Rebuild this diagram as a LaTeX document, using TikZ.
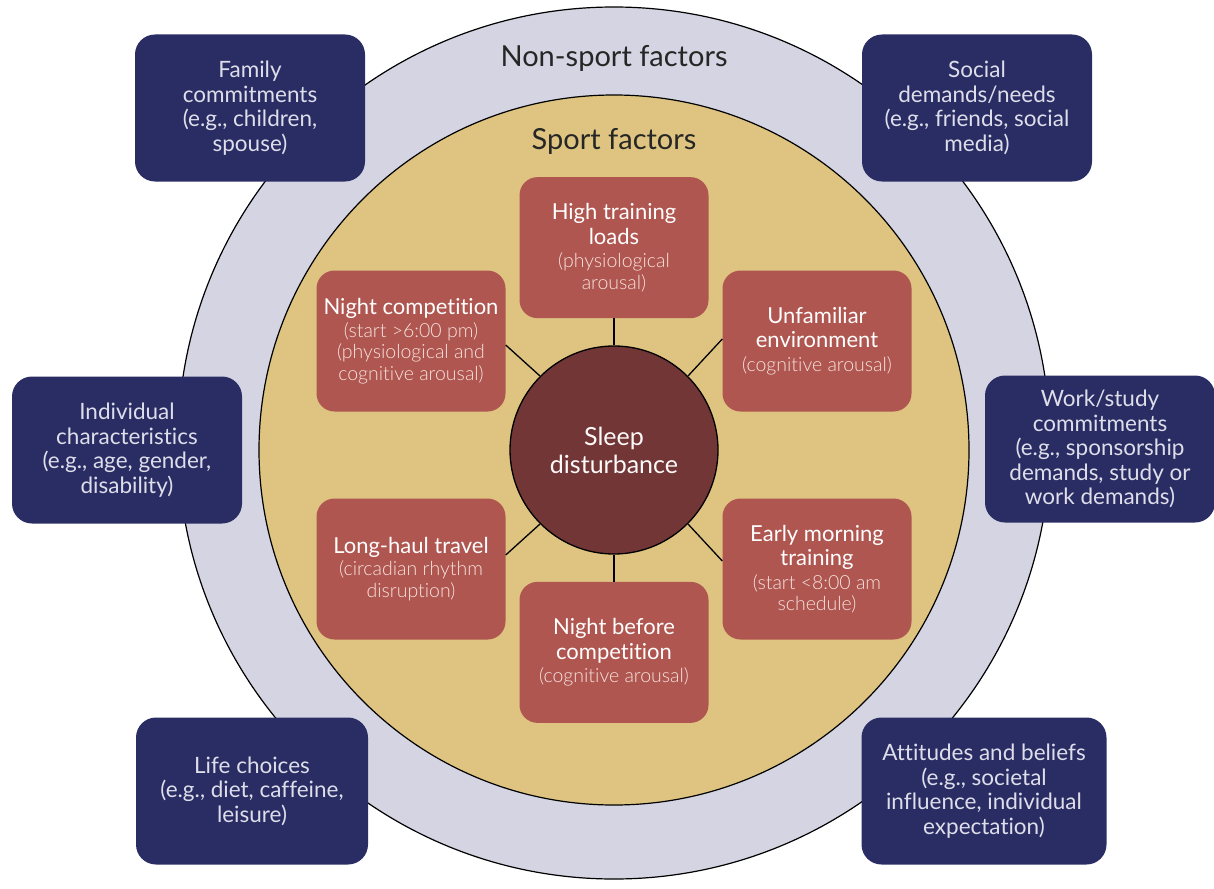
\documentclass[tikz,border=0pt]{standalone}
\usepackage{fontspec}
\setmainfont{Lato}[Ligatures=NoCommon]
\newfontfamily\lightfont{Lato Light}[Ligatures=NoCommon]
\usepackage{xcolor}
\usepackage{tikz}
\usetikzlibrary{positioning}

\definecolor{navy}{RGB}{42,45,100}
\definecolor{ringgray}{RGB}{212,212,226}
\definecolor{sand}{RGB}{222,196,128}
\definecolor{brick}{RGB}{176,86,80}
\definecolor{maroon}{RGB}{114,54,55}
\definecolor{paletext}{RGB}{222,222,234}
\definecolor{pinktext}{RGB}{246,226,222}

\newcommand{\note}[1]{{\lightfont\fontsize{19.5}{22}\selectfont\color{pinktext}#1}}

\tikzset{
  factor/.style={rectangle, rounded corners=20pt, fill=navy, text=paletext, align=center,
    minimum width=230pt, minimum height=147pt, font=\fontsize{22.5}{24.5}\selectfont},
  sportbox/.style={rectangle, rounded corners=18pt, fill=brick, text=white, align=center,
    minimum width=189pt, minimum height=141pt, font=\fontsize{22}{24.5}\selectfont},
  ring/.style={circle, draw=black, line width=1.2pt, inner sep=0pt},
  title/.style={text=black!85, font=\fontsize{29}{32}\selectfont},
  link/.style={draw=black, line width=1.3pt},
}

\begin{document}
\begin{tikzpicture}[x=1pt, y=-1pt]
  \useasboundingbox (0,0) rectangle (1214,888);
  \node[ring, fill=ringgray, minimum size=872pt] (outer) at (614,443) {}; %
  \node[ring, fill=sand, minimum size=710pt] (inner) at (614,450) {}; %
  \node[title] (nonsport) at (614,58) {Non-sport factors};
  \node[title] (sport) at (614,141) {Sport factors};

  \node[ring, fill=maroon, minimum size=208pt, line width=1.3pt, text=white!92!pink, align=center,
    font=\fontsize{25}{28}\selectfont] (sleep) at (614,450) {Sleep\\disturbance};

  \node[sportbox, above=27pt of sleep] (loads) {High training\\loads\\[-1pt]\note{(physiological}\\[-3pt]\note{arousal)}};
  \node[sportbox, below=27pt of sleep] (eve) {Night before\\competition\\[-1pt]\note{(cognitive arousal)}};
  \node[sportbox] (nightcomp) at (411,341) {Night competition\\[-2pt]\note{(start >6:00 pm)}\\[-3pt]\note{(physiological and}\\[-3pt]\note{cognitive arousal)}};
  \node[sportbox] (unfam) at (817,341) {Unfamiliar\\environment\\[-1pt]\note{(cognitive arousal)}};
  \node[sportbox] (longhaul) at (411,569) {Long-haul travel\\[-2pt]\note{(circadian rhythm}\\[-3pt]\note{disruption)}};
  \node[sportbox] (early) at (817,569) {Early morning\\training\\[-1pt]\note{(start <8:00 am}\\[-3pt]\note{schedule)}};

  \draw[link] (loads) -- (sleep);
  \draw[link] (sleep) -- (eve);
  \draw[link] (sleep.135) -- ([yshift=-4pt]nightcomp.east);
  \draw[link] (sleep.45) -- ([yshift=2pt]unfam.west);
  \draw[link] (sleep.225) -- ([yshift=14pt]longhaul.east);
  \draw[link] (sleep.315) -- ([yshift=8pt]early.west);

  \node[factor] (family) at (250,108) {Family\\commitments\\(e.g., children,\\spouse)};
  \node[factor] (social) at (977,108) {Social\\demands/needs\\(e.g., friends, social\\media)};
  \node[factor] (individual) at (127,450) {Individual\\characteristics\\(e.g., age, gender,\\disability)};
  \node[factor] (work) at (1100,449) {Work/study\\commitments\\(e.g., sponsorship\\demands, study or\\work demands)};
  \node[factor, minimum width=232pt] (life) at (252,791) {Life choices\\(e.g., diet, caffeine,\\leisure)};
  \node[factor, minimum width=245pt] (attitudes) at (984,791) {Attitudes and beliefs\\(e.g., societal\\influence, individual\\expectation)};
\end{tikzpicture}
\end{document}
